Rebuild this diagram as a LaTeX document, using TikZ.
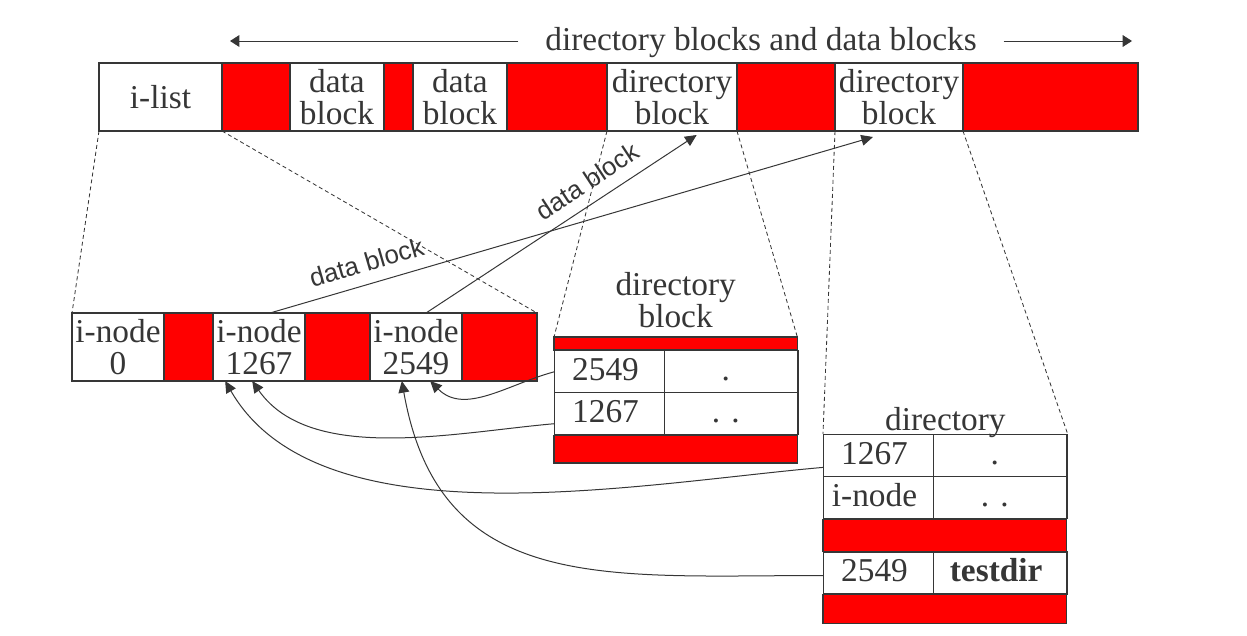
\documentclass[tikz,border=0pt]{standalone}
\usepackage{fontspec}
\setmainfont{Liberation Serif}
\newfontfamily\sansfont{Liberation Sans}
\usetikzlibrary{
    arrows.meta,
    matrix,
    positioning
}
\definecolor{ink}{HTML}{363636}
\definecolor{blk}{HTML}{FF0000}
\def\rowh{25.2pt}
\def\colA{66pt}
\def\colB{80pt}
\def\tblw{146pt}
\tikzset{
    base/.style={
        draw=ink,
        line width=0.8pt,
        text=ink,
        inner sep=0pt,
        outer sep=0pt,
        align=center,
        font=\fontsize{20}{19.2}\selectfont,
    },
    cell/.style={
        base,
        minimum height=40.8pt,
    },
    gap/.style={
        cell,
        fill=blk,
    },
    strip/.style={
        base,
        fill=blk,
        minimum width=\tblw,
    },
    tbl/.style={
        matrix of nodes,
        inner sep=0pt,
        outer sep=0pt,
        row sep=-0.8pt,
        column sep=-0.8pt,
        nodes={
            base,
            minimum height=\rowh,
            text height=14pt,
            text depth=4pt,
        },
        column 1/.style={nodes={minimum width=\colA}},
        column 2/.style={nodes={minimum width=\colB}},
    },
    caption/.style={
        text=ink,
        inner sep=0pt,
        align=center,
        font=\fontsize{20}{19.2}\selectfont,
    },
    guide/.style={
        draw=ink,
        line width=0.5pt,
        dash pattern=on 2.4pt off 1.8pt,
    },
    link/.style={
        draw=ink,
        line width=0.6pt,
        -{Triangle[length=7pt,width=6.5pt]},
    },
    slopetext/.style={
        sloped,
        above=7pt,
        inner sep=0pt,
        text=ink,
        font=\sansfont\fontsize{15.5}{15.5}\selectfont,
    },
}

\begin{document}
\begin{tikzpicture}[x=0.6pt, y=0.6pt]
    \useasboundingbox (0,0) rectangle (1247,-635);

    % heading
    \node (head) [caption, inner xsep=16pt] at (761,-43) {directory blocks and data blocks};
    \coordinate (headL) at (230,-41);
    \coordinate (headR) at (1132,-41);

    % disk
    \node (ilist) [cell, minimum width=73.8pt, anchor=north west] at (99,-63) {i-list};
    \node (gap1) [gap, minimum width=40.8pt, right=0pt of ilist] {};
    \node (data1) [cell, minimum width=56.4pt, right=0pt of gap1] {data\\block};
    \node (gap2) [gap, minimum width=17.4pt, right=0pt of data1] {};
    \node (data2) [cell, minimum width=56.4pt, right=0pt of gap2] {data\\block};
    \node (gap3) [gap, minimum width=60pt, right=0pt of data2] {};
    \node (dir1) [cell, minimum width=78pt, right=0pt of gap3] {directory\\block};
    \node (gap4) [gap, minimum width=58.8pt, right=0pt of dir1] {};
    \node (dir2) [cell, minimum width=76.8pt, right=0pt of gap4] {directory\\block};
    \node (gap5) [gap, minimum width=105pt, right=0pt of dir2] {};

    % i-list
    \node (in0) [cell, minimum width=55.2pt, anchor=north west] at (72,-313) {i-node\\0};
    \node (gapA) [gap, minimum width=29.4pt, right=0pt of in0] {};
    \node (in1267) [cell, minimum width=55.2pt, right=0pt of gapA] {i-node\\1267};
    \node (gapB) [gap, minimum width=39pt, right=0pt of in1267] {};
    \node (in2549) [cell, minimum width=55.2pt, right=0pt of gapB] {i-node\\2549};
    \node (gapC) [gap, minimum width=45pt, right=0pt of in2549] {};

    % directory block
    \matrix (dblk) [tbl, anchor=north west] at (554,-350) {
        2549 & . \\
        1267 & . . \\
    };
    \node (dbtop) [strip, minimum height=7.8pt, anchor=south west] at (dblk.north west) {};
    \node (dbbot) [strip, minimum height=16.6pt, anchor=north west] at (dblk.south west) {};
    \node (dblabel) [caption, above=5.4pt of dbtop] {directory\\block};

    % directory
    \matrix (dir) [tbl, anchor=north west] at (823,-434) {
        1267 & . \\
        i-node & . . \\
    };
    \node (dirmid) [strip, minimum height=19.2pt, anchor=north west] at (dir.south west) {};
    \matrix (dirb) [tbl, anchor=north west] at (dirmid.south west) {
        2549 & \textbf{testdir} \\
    };
    \node (dirbot) [strip, minimum height=17.4pt, anchor=north west] at (dirb.south west) {};
    \node (dirlabel) [caption, above=-2.5pt of dir] {directory};

    \draw [draw=ink, line width=0.6pt, -{Triangle[length=5.6pt,width=7pt]}] (head.west |- headL) -- (headL);
    \draw [draw=ink, line width=0.6pt, -{Triangle[length=5.6pt,width=7pt]}] (head.east |- headR) -- (headR);

    \draw [guide] (ilist.south west) -- (in0.north west);
    \draw [guide] (ilist.south east) -- (gapC.north east);
    \draw [guide] (dir1.south west) -- (dbtop.north west);
    \draw [guide] (dir1.south east) -- (dbtop.north east);
    \draw [guide] (dir2.south west) -- (dir.north west);
    \draw [guide] (dir2.south east) -- (dir.north east);

    \draw [link] ([xshift=6.6pt]in1267.north) -- node [slopetext, pos=0.17] {data block} ([xshift=-15.6pt,yshift=-3.6pt]dir2.south);
    \draw [link] ([xshift=6pt]in2549.north) -- node [slopetext, pos=0.64] {data block} ([xshift=14.8pt,yshift=-2.4pt]dir1.south);

    \draw [link] (dblk-1-1.west) to [out=195, in=-45] ([xshift=8.5pt]in2549.south);
    \draw [link] ([yshift=-6pt]dblk-2-1.west) to [out=185, in=-55, looseness=0.85] ([xshift=-4.1pt]in1267.south);
    \draw [link] ([yshift=-7pt]dir-1-1.west) to [out=185, in=-60, looseness=0.8] ([xshift=-20.3pt]in1267.south);
    \draw [link] ([yshift=-1.5pt]dirb-1-1.west) to [out=180, in=-80, looseness=1.2] ([xshift=-8.5pt]in2549.south);
\end{tikzpicture}
\end{document}
